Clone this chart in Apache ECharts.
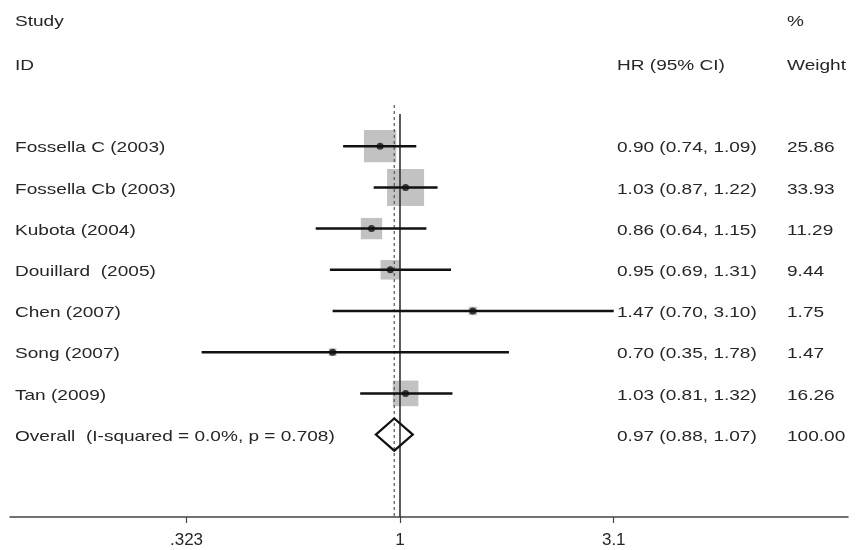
<!DOCTYPE html>
<html>
<head>
<meta charset="utf-8">
<script src="https://cdn.jsdelivr.net/npm/echarts@6/dist/echarts.min.js"></script>
<style>
html,body{margin:0;padding:0;background:#fff;}
#chart{width:860px;height:550px;}
</style>
</head>
<body>
<div id="chart"></div>
<script>
// ---- data ----
const studies = ['Fossella C (2003)', 'Fossella Cb (2003)', 'Kubota (2004)', 'Douillard  (2005)', 'Chen (2007)', 'Song (2007)', 'Tan (2009)'];
const hr = [0.90, 1.03, 0.86, 0.95, 1.47, 0.70, 1.03];
const lower = [0.74, 0.87, 0.64, 0.69, 0.70, 0.35, 0.81];
const upper = [1.09, 1.22, 1.15, 1.31, 3.10, 1.78, 1.32];
const weights = [25.86, 33.93, 11.29, 9.44, 1.75, 1.47, 16.26];
const overallLabel = 'Overall  (I-squared = 0.0%, p = 0.708)';
const overallHR = 0.97, overallLower = 0.88, overallUpper = 1.07;
const overallWeight = 100.00;
const tickValues = [0.323, 1, 3.1];
const tickLabels = ['.323', '1', '3.1'];
const headers = {study: 'Study', id: 'ID', hr: 'HR (95% CI)', pct: '%', weight: 'Weight'};

// ---- helpers ----
const L = v => Math.log10(v);
const FONT = 'Liberation Sans, Arial, sans-serif';
const TXT = '#262626';
const SX = 1.27;
const nRows = studies.length;
const maxW = Math.max(...weights);

const chart = echarts.init(document.getElementById('chart'), null, {renderer: 'canvas'});

const option = {
  animation: false,
  backgroundColor: '#fff',
  grid: {left: 10, right: 12, top: 105, bottom: 33, containLabel: false},
  xAxis: {
    type: 'value',
    min: (10 - 400) / 435,
    max: (848 - 400) / 435,
    splitLine: {show: false},
    axisLine: {show: true, onZero: false, lineStyle: {color: '#444', width: 1.5}},
    axisTick: {show: true, customValues: tickValues.map(L), length: 6, inside: false, lineStyle: {color: '#444', width: 1.2}},
    axisLabel: {
      show: true,
      customValues: tickValues.map(L),
      margin: 15,
      fontFamily: FONT, fontSize: 17, color: TXT,
      formatter: function (v) {
        let best = 0, d = Infinity;
        tickValues.forEach((t, i) => { const dd = Math.abs(L(t) - v); if (dd < d) { d = dd; best = i; } });
        return tickLabels[best];
      }
    }
  },
  yAxis: {
    type: 'value', inverse: true, min: -1, max: 9, show: false
  },
  series: [
    {
      name: 'weightSquares', type: 'scatter', symbol: 'rect', z: 2,
      symbolSize: function (val, p) { return 37 * Math.sqrt(weights[p.dataIndex] / maxW); },
      itemStyle: {color: '#c2c2c2', opacity: 1},
      data: hr.map((v, i) => [L(v), i])
    },
    {
      name: 'nullLine', type: 'line', z: 3, symbol: 'none', silent: true,
      lineStyle: {color: '#333', width: 1.6},
      data: [[L(1), -0.78], [L(1), 9]]
    },
    {
      name: 'overallLine', type: 'line', z: 3, symbol: 'none', silent: true,
      lineStyle: {color: '#555', width: 1.2, type: [3, 3]},
      data: [[L(overallHR), -1], [L(overallHR), 9]]
    },
    {
      name: 'ci', type: 'custom', z: 4,
      renderItem: function (params, api) {
        const a = api.coord([api.value(0), api.value(2)]);
        const b = api.coord([api.value(1), api.value(2)]);
        return {type: 'line', shape: {x1: a[0], y1: a[1], x2: b[0], y2: b[1]}, style: {stroke: '#111', lineWidth: 2.5}};
      },
      data: lower.map((v, i) => [L(v), L(upper[i]), i])
    },
    {
      name: 'points', type: 'scatter', symbol: 'circle', symbolSize: 7, z: 5,
      itemStyle: {color: '#111'},
      data: hr.map((v, i) => [L(v), i])
    },
    {
      name: 'overallDiamond', type: 'custom', z: 6,
      renderItem: function (params, api) {
        const row = api.value(3), h = 0.39;
        const p1 = api.coord([api.value(1), row]);
        const p2 = api.coord([api.value(0), row - h]);
        const p3 = api.coord([api.value(2), row]);
        const p4 = api.coord([api.value(0), row + h]);
        return {type: 'polygon', shape: {points: [p1, p2, p3, p4]}, style: {fill: 'rgba(255,255,255,0)', stroke: '#111', lineWidth: 2.2}};
      },
      data: [[L(overallHR), L(overallLower), L(overallUpper), nRows]]
    }
  ]
};
chart.setOption(option);

// ---- text columns ----
const fmt = v => v.toFixed(2);
const rowY = i => chart.convertToPixel({yAxisIndex: 0}, i);
const colStudy = 15, colHR = 617, colW = 787;
const texts = [];
function addText(str, x, y) {
  texts.push({
    type: 'text', x: x, y: y, scaleX: SX, silent: true,
    style: {text: str, fontFamily: FONT, fontSize: 15, fill: TXT, textAlign: 'left', textVerticalAlign: 'middle'}
  });
}
addText(headers.study, colStudy, 22);
addText(headers.id, colStudy, 66);
addText(headers.hr, colHR, 66);
addText(headers.pct, colW, 22);
addText(headers.weight, colW, 66);
studies.forEach((s, i) => {
  const y = rowY(i) + 2;
  addText(s, colStudy, y);
  addText(fmt(hr[i]) + ' (' + fmt(lower[i]) + ', ' + fmt(upper[i]) + ')', colHR, y);
  addText(fmt(weights[i]), colW, y);
});
const oy = rowY(nRows) + 2;
addText(overallLabel, colStudy, oy);
addText(fmt(overallHR) + ' (' + fmt(overallLower) + ', ' + fmt(overallUpper) + ')', colHR, oy);
addText(fmt(overallWeight), colW, oy);
chart.setOption({graphic: {elements: texts}});
</script>
</body>
</html>
